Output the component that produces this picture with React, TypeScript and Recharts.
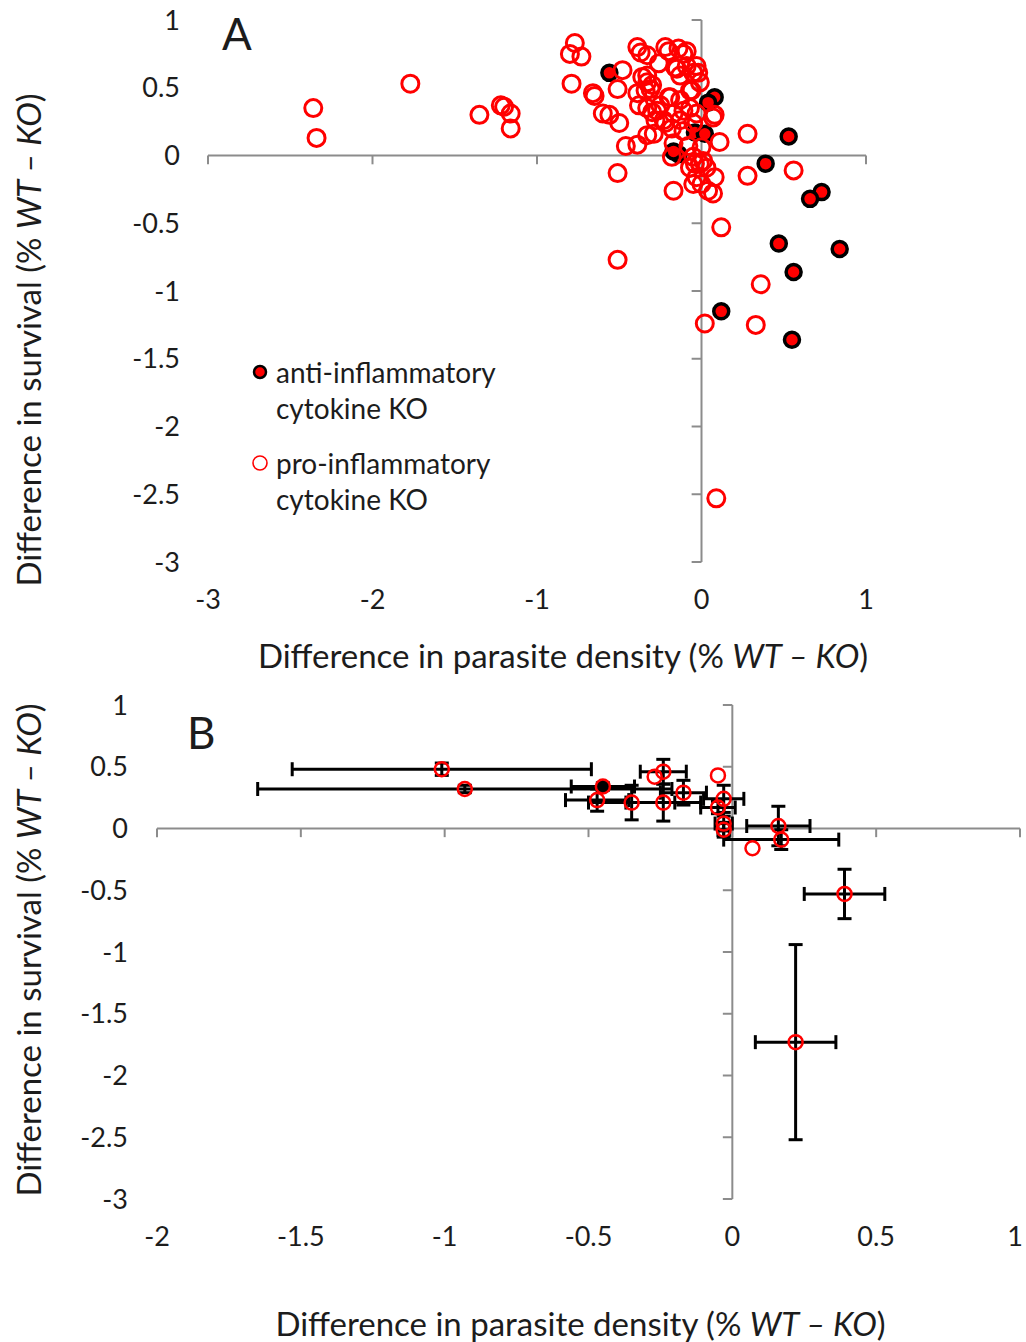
import {
	ScatterChart,
	Scatter,
	XAxis,
	YAxis,
	ReferenceLine,
	ErrorBar,
	Legend,
	Label,
} from "recharts";

const FONT = "Lato, 'Open Sans', sans-serif";
const TEXT = "#1c1c1c";
const AXIS = "#8c8c8c";
const RED = "#ff0000";

// ---- panel A ----
const antiX = [-0.56, 0.08, 0.04, -0.04, 0.02, -0.14, -0.17, 0.53, 0.39, 0.73, 0.66, 0.47, 0.84, 0.56, 0.12, 0.55];
const antiY = [0.61, 0.43, 0.39, 0.17, 0.16, 0.01, 0.03, 0.14, -0.06, -0.27, -0.32, -0.65, -0.69, -0.86, -1.15, -1.36];

const proX = [
	-2.36, -2.34, -1.77, -1.35, -1.22, -1.2, -1.16, -1.16, -0.77, -0.8, -0.73, -0.79, -0.48, -0.66, -0.65, -0.51,
	-0.6, -0.56, -0.5, -0.46, -0.39, -0.51, -0.39, -0.37, -0.33, -0.22, -0.2, -0.14, -0.11, -0.26, -0.15, -0.03,
	-0.02, -0.36, -0.33, -0.31, -0.39, -0.2, -0.38, -0.33, -0.27, -0.29, -0.23, -0.17, -0.11, -0.06, -0.01, 0.07,
	0.11, 0.28, 0.28, 0.56, -0.18, -0.17, -0.04, -0.03, 0.0, -0.05, 0.04, 0.07, 0.08, 0.03, 0.01, -0.07,
	-0.51, 0.12, 0.02, 0.36, 0.33, 0.09, 0.08, -0.09, -0.16, -0.09, -0.33, -0.13, -0.05, -0.3, -0.34, -0.07,
	-0.19, -0.13, -0.25, -0.3, -0.07, -0.03, -0.28, -0.22, -0.13, -0.05, -0.18, -0.11, -0.33, -0.17, -0.08, 0.0,
	-0.05, -0.01,
];
const proY = [
	0.35, 0.13, 0.53, 0.3, 0.37, 0.36, 0.31, 0.2, 0.83, 0.75, 0.73, 0.53, 0.63, 0.46, 0.44, 0.49,
	0.31, 0.3, 0.24, 0.07, 0.08, -0.13, 0.8, 0.76, 0.74, 0.8, 0.77, 0.79, 0.75, 0.68, 0.64, 0.66,
	0.61, 0.58, 0.54, 0.49, 0.46, 0.43, 0.37, 0.35, 0.33, 0.16, 0.26, 0.31, 0.33, 0.48, 0.54, 0.28,
	0.1, 0.16, -0.15, -0.11, -0.01, -0.26, -0.06, -0.16, -0.21, -0.21, -0.26, -0.28, -0.16, -0.09, -0.04, -0.09,
	-0.77, -0.53, -1.24, -0.95, -1.25, -2.53, 0.3, 0.77, 0.65, 0.66, 0.59, 0.59, 0.61, 0.52, 0.48, 0.48,
	0.43, 0.41, 0.37, 0.32, 0.35, 0.31, 0.26, 0.24, 0.26, 0.24, 0.2, 0.18, 0.15, 0.09, 0.07, 0.06,
	-0.01, -0.06,
];

const aXTicks = [-3, -2, -1, 0, 1];
const aYTicks = [-3, -2.5, -2, -1.5, -1, -0.5, 0, 0.5, 1];

// ---- panel B ----
const bX = [-1.01, -0.93, -0.47, -0.35, -0.24, -0.27, -0.24, -0.17, -0.05, -0.03, -0.05, -0.03, -0.03, 0.16, 0.17, 0.07, 0.39, 0.22];
const bY = [0.48, 0.32, 0.23, 0.21, 0.21, 0.42, 0.46, 0.29, 0.43, 0.24, 0.17, 0.04, -0.01, 0.02, -0.09, -0.16, -0.53, -1.73];
const bXErr = [0.52, 0.72, 0.11, 0.15, 0.13, 0, 0.08, 0.08, 0, 0.07, 0.06, 0.03, 0.02, 0.11, 0.2, 0, 0.14, 0.14];
const bYErr = [0.05, 0.03, 0.09, 0.14, 0.15, 0, 0.1, 0.1, 0, 0.11, 0.05, 0.06, 0.06, 0.16, 0.08, 0, 0.2, 0.79];

const bFillX = [-0.45];
const bFillY = [0.34];
const bFillXErr = [0.11];
const bFillYErr = [0.03];

const bXTicks = [-2, -1.5, -1, -0.5, 0, 0.5, 1];
const bYTicks = [-3, -2.5, -2, -1.5, -1, -0.5, 0, 0.5, 1];

const legendLines = [
	["anti-inflammatory", "cytokine KO"],
	["pro-inflammatory", "cytokine KO"],
];

const zip = (xs: number[], ys: number[], ex?: number[], ey?: number[]) =>
	xs.map((x, i) => ({ x, y: ys[i], ex: ex ? ex[i] : 0, ey: ey ? ey[i] : 0 }));

const tickStyle = { fill: TEXT, fontSize: 27, fontFamily: FONT };

// last tick of panel B sits on the page edge, nudge it in a little
function EdgeTick(props: any) {
	const { x, y, payload } = props;
	const shift = payload.value === 1 ? -5 : 0;
	return (
		<text x={x + shift} y={y} dy="0.71em" textAnchor="middle" fill={TEXT} fontSize={27} fontFamily={FONT}>
			{payload.value}
		</text>
	);
}

function xTitle(dx: number, dy: number) {
	return (props: any) => {
		const vb = props.viewBox;
		return (
			<text
				x={vb.x + vb.width / 2 + dx}
				y={vb.y + dy}
				textAnchor="middle"
				dominantBaseline="central"
				fill={TEXT}
				fontSize={33}
				fontFamily={FONT}
			>
				Difference in parasite density (%{" "}
				<tspan fontStyle="italic">WT – KO</tspan>)
			</text>
		);
	};
}

function yTitle(dx: number, dy: number) {
	return (props: any) => {
		const vb = props.viewBox;
		const cx = vb.x + dx;
		const cy = vb.y + vb.height / 2 + dy;
		return (
			<text
				x={cx}
				y={cy}
				transform={`rotate(-90, ${cx}, ${cy})`}
				textAnchor="middle"
				dominantBaseline="central"
				fill={TEXT}
				fontSize={33}
				fontFamily={FONT}
			>
				Difference in survival (%{" "}
				<tspan fontStyle="italic">WT – KO</tspan>)
			</text>
		);
	};
}

function LegendBox() {
	return (
		<div style={{ fontFamily: FONT, fontSize: 28, color: TEXT, lineHeight: "36px" }}>
			{legendLines.map((lines, i) => (
				<div key={i} style={{ display: "flex", marginBottom: i === 0 ? 19 : 0 }}>
					<svg width={28} height={36} style={{ flex: "none" }}>
						{i === 0 ? (
							<circle cx={12} cy={18} r={6} fill={RED} stroke="#000" strokeWidth={2.5} />
						) : (
							<circle cx={12} cy={18} r={7} fill="none" stroke={RED} strokeWidth={1.6} />
						)}
					</svg>
					<div>
						{lines.map((l) => (
							<div key={l}>{l}</div>
						))}
					</div>
				</div>
			))}
		</div>
	);
}

function PanelA() {
	const antiData = zip(antiX, antiY);
	const proData = zip(proX, proY);
	return (
		<ScatterChart width={1026} height={680} margin={{ top: 20, right: 160, bottom: 0, left: 0 }}>
			<XAxis
				type="number"
				dataKey="x"
				domain={[-3, 1]}
				ticks={aXTicks}
				interval={0}
				height={118}
				axisLine={false}
				tickLine={false}
				tickSize={0}
				tickMargin={28}
				tick={tickStyle}
			>
				<Label content={xTitle(26, 93)} />
			</XAxis>
			<YAxis
				type="number"
				dataKey="y"
				domain={[-3, 1]}
				ticks={aYTicks}
				interval={0}
				width={208}
				axisLine={false}
				tickLine={false}
				tickSize={0}
				tickMargin={28}
				tick={tickStyle}
			>
				<Label content={yTitle(28, 49)} />
			</YAxis>
			<ReferenceLine y={0} stroke={AXIS} strokeWidth={2} />
			<ReferenceLine x={0} stroke={AXIS} strokeWidth={2} />
			{aXTicks.map((t) => (
				<ReferenceLine key={"ax" + t} segment={[{ x: t, y: 0 }, { x: t, y: -0.065 }]} stroke={AXIS} strokeWidth={2} />
			))}
			{aYTicks.map((t) => (
				<ReferenceLine key={"ay" + t} segment={[{ x: 0, y: t }, { x: -0.06, y: t }]} stroke={AXIS} strokeWidth={2} />
			))}
			<Legend
				layout="horizontal"
				verticalAlign="middle"
				align="center"
				content={() => <LegendBox />}
				wrapperStyle={{ left: 248, top: 354, width: "auto", height: "auto" }}
			/>
			<Scatter
				name="anti-inflammatory cytokine KO"
				data={antiData}
				isAnimationActive={false}
				shape={(p: any) => <circle cx={p.cx} cy={p.cy} r={7.5} fill={RED} stroke="#000" strokeWidth={3.5} />}
			/>
			<Scatter
				name="pro-inflammatory cytokine KO"
				data={proData}
				isAnimationActive={false}
				shape={(p: any) => <circle cx={p.cx} cy={p.cy} r={8.5} fill="none" stroke={RED} strokeWidth={3} />}
			/>
		</ScatterChart>
	);
}

function PanelB() {
	const openData = zip(bX, bY, bXErr, bYErr);
	const fillData = zip(bFillX, bFillY, bFillXErr, bFillYErr);
	return (
		<ScatterChart width={1026} height={662} margin={{ top: 25, right: 6, bottom: 0, left: 0 }}>
			<XAxis
				type="number"
				dataKey="x"
				domain={[-2, 1]}
				ticks={bXTicks}
				interval={0}
				height={143}
				axisLine={false}
				tickLine={false}
				tickSize={0}
				tickMargin={28}
				tick={<EdgeTick />}
			>
				<Label content={xTitle(-8, 124)} />
			</XAxis>
			<YAxis
				type="number"
				dataKey="y"
				domain={[-3, 1]}
				ticks={bYTicks}
				interval={0}
				width={157}
				axisLine={false}
				tickLine={false}
				tickSize={0}
				tickMargin={29}
				tick={tickStyle}
			>
				<Label content={yTitle(28, -2)} />
			</YAxis>
			<ReferenceLine y={0} stroke={AXIS} strokeWidth={2} />
			<ReferenceLine x={0} stroke={AXIS} strokeWidth={2} />
			{bXTicks.map((t) => (
				<ReferenceLine key={"bx" + t} segment={[{ x: t, y: 0 }, { x: t, y: -0.07 }]} stroke={AXIS} strokeWidth={2} />
			))}
			{bYTicks.map((t) => (
				<ReferenceLine key={"by" + t} segment={[{ x: 0, y: t }, { x: -0.033, y: t }]} stroke={AXIS} strokeWidth={2} />
			))}
			<Scatter
				data={fillData}
				isAnimationActive={false}
				shape={(p: any) => <circle cx={p.cx} cy={p.cy} r={7} fill="#000" stroke={RED} strokeWidth={2.5} />}
			>
				<ErrorBar dataKey="ex" direction="x" width={7} stroke="#000" strokeWidth={3} />
				<ErrorBar dataKey="ey" direction="y" width={7} stroke="#000" strokeWidth={3} />
			</Scatter>
			<Scatter
				data={openData}
				isAnimationActive={false}
				shape={(p: any) => <circle cx={p.cx} cy={p.cy} r={7} fill="none" stroke={RED} strokeWidth={2.5} />}
			>
				<ErrorBar dataKey="ex" direction="x" width={7} stroke="#000" strokeWidth={3} />
				<ErrorBar dataKey="ey" direction="y" width={7} stroke="#000" strokeWidth={3} />
			</Scatter>
		</ScatterChart>
	);
}

export default function App() {
	const letter = { position: "absolute" as const, fontFamily: FONT, fontSize: 44, color: TEXT, lineHeight: "44px" };
	return (
		<div style={{ position: "absolute", left: 0, top: 0, width: 1026, height: 1342, background: "#fff" }}>
			<div style={{ position: "absolute", left: 0, top: 0 }}>
				<PanelA />
			</div>
			<div style={{ position: "absolute", left: 0, top: 680 }}>
				<PanelB />
			</div>
			<div style={{ ...letter, left: 222, top: 11 }}>A</div>
			<div style={{ ...letter, left: 187, top: 710 }}>B</div>
		</div>
	);
}
